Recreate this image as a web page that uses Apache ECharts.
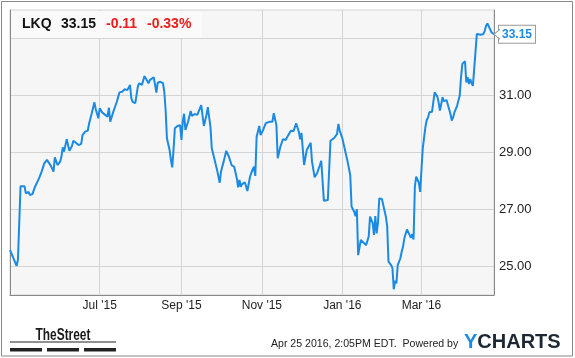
<!DOCTYPE html>
<html><head><meta charset="utf-8">
<script src="https://cdn.jsdelivr.net/npm/echarts@6/dist/echarts.min.js"></script>
<style>html,body{margin:0;padding:0;background:#fff;}#c{width:575px;height:358px;}</style>
</head><body><div id="c"></div>
<script>
const ticker = 'LKQ';
const lastPrice = '33.15';
const change = '-0.11';
const changePct = '-0.33%';
const stampText = 'Apr 25 2016, 2:05PM EDT.  Powered by';
const startDate = [2015, 3, 24];
const endDate = [2016, 3, 25];
const monthTicks = ['2015-07-01', '2015-09-01', '2015-11-01', '2016-01-01', '2016-03-01'];
const monthNames = {'01':'Jan','03':'Mar','07':'Jul','09':'Sep','11':'Nov'};
const yLabelValues = [25, 27, 29, 31];

const priceDates = [
'2015-04-24','2015-04-29','2015-04-30','2015-05-02','2015-05-05','2015-05-06','2015-05-08','2015-05-09','2015-05-11','2015-05-13',
'2015-05-14','2015-05-16','2015-05-18','2015-05-20','2015-05-22','2015-05-23','2015-05-25','2015-05-27','2015-05-28','2015-05-29',
'2015-05-30','2015-06-01','2015-06-02','2015-06-03','2015-06-04','2015-06-06','2015-06-07','2015-06-08','2015-06-10','2015-06-11',
'2015-06-13','2015-06-15','2015-06-17','2015-06-18','2015-06-20','2015-06-22','2015-06-23','2015-06-24','2015-06-25','2015-06-27',
'2015-06-28','2015-06-30','2015-07-01','2015-07-03','2015-07-04','2015-07-07','2015-07-08','2015-07-09','2015-07-11','2015-07-14',
'2015-07-16','2015-07-18','2015-07-20','2015-07-22','2015-07-23','2015-07-24','2015-07-25','2015-07-26','2015-07-28','2015-07-30',
'2015-07-31','2015-08-02','2015-08-03','2015-08-04','2015-08-05','2015-08-07','2015-08-08','2015-08-09','2015-08-11','2015-08-12',
'2015-08-13','2015-08-14','2015-08-16','2015-08-18','2015-08-19','2015-08-20','2015-08-21','2015-08-23','2015-08-24','2015-08-25',
'2015-08-26','2015-08-27','2015-08-29','2015-08-31','2015-09-01','2015-09-02','2015-09-03','2015-09-04','2015-09-06','2015-09-08',
'2015-09-09','2015-09-11','2015-09-13','2015-09-14','2015-09-16','2015-09-17','2015-09-18','2015-09-20','2015-09-21','2015-09-23',
'2015-09-24','2015-09-25','2015-09-28','2015-09-30','2015-10-01','2015-10-03','2015-10-05','2015-10-07','2015-10-08','2015-10-09',
'2015-10-11','2015-10-12','2015-10-13','2015-10-14','2015-10-15','2015-10-16','2015-10-17','2015-10-19','2015-10-20','2015-10-21',
'2015-10-23','2015-10-24','2015-10-26','2015-10-27','2015-10-28','2015-10-30','2015-10-31','2015-11-02','2015-11-04','2015-11-07',
'2015-11-09','2015-11-10','2015-11-12','2015-11-13','2015-11-15','2015-11-17','2015-11-19','2015-11-21','2015-11-23','2015-11-25',
'2015-11-27','2015-11-29','2015-11-30','2015-12-01','2015-12-03','2015-12-05','2015-12-06','2015-12-08','2015-12-09','2015-12-10',
'2015-12-11','2015-12-13','2015-12-15','2015-12-16','2015-12-18','2015-12-21','2015-12-22','2015-12-23','2015-12-26','2015-12-28',
'2015-12-29','2015-12-30','2016-01-01','2016-01-03','2016-01-05','2016-01-07','2016-01-08','2016-01-10','2016-01-11','2016-01-12',
'2016-01-13','2016-01-15','2016-01-16','2016-01-19','2016-01-21','2016-01-22','2016-01-24','2016-01-25','2016-01-26','2016-01-27',
'2016-01-28','2016-01-29','2016-01-31','2016-02-01','2016-02-03','2016-02-04','2016-02-05','2016-02-07','2016-02-08','2016-02-09',
'2016-02-10','2016-02-11','2016-02-12','2016-02-14','2016-02-15','2016-02-16','2016-02-17','2016-02-18','2016-02-19','2016-02-21',
'2016-02-22','2016-02-23','2016-02-24','2016-02-25','2016-02-26','2016-02-28','2016-02-29','2016-03-01','2016-03-02','2016-03-04',
'2016-03-05','2016-03-06','2016-03-07','2016-03-09','2016-03-10','2016-03-11','2016-03-13','2016-03-14','2016-03-15','2016-03-17',
'2016-03-18','2016-03-20','2016-03-21','2016-03-23','2016-03-24','2016-03-25','2016-03-26','2016-03-28','2016-03-30','2016-03-31',
'2016-04-01','2016-04-02','2016-04-03','2016-04-04','2016-04-05','2016-04-06','2016-04-07','2016-04-08','2016-04-09','2016-04-12',
'2016-04-13','2016-04-15','2016-04-17','2016-04-18','2016-04-19','2016-04-20','2016-04-22','2016-04-23','2016-04-24','2016-04-25'
];
const prices = [
25.58,25.02,25.23,27.82,27.82,27.57,27.62,27.51,27.54,27.80,
27.82,28.09,28.33,28.62,28.74,28.74,28.53,28.33,28.83,28.78,
28.56,28.68,28.85,29.18,29.03,29.47,29.26,29.06,29.23,29.41,
29.34,29.26,29.30,29.61,29.73,29.77,30.02,30.05,30.38,30.76,
30.52,30.20,30.55,30.40,30.36,30.26,30.57,30.08,30.38,30.78,
31.11,31.13,31.22,31.19,31.13,31.37,30.90,30.78,30.73,31.33,
31.43,31.37,31.43,31.68,31.72,31.43,31.54,31.57,31.64,31.37,
31.10,31.45,31.48,31.43,31.13,30.49,29.50,29.09,28.74,28.48,
29.09,29.85,29.93,29.96,29.44,30.08,30.36,29.79,30.08,30.46,
30.28,30.35,30.32,30.35,30.66,30.66,29.93,30.32,30.59,29.90,
29.15,29.11,28.39,27.94,28.33,28.68,29.06,28.85,28.85,28.56,
28.50,28.44,28.09,27.78,28.04,27.80,27.89,27.95,27.82,27.65,
28.15,28.29,28.50,28.18,29.55,29.93,29.61,29.80,30.03,30.08,
30.08,30.38,29.96,28.80,29.20,29.47,29.44,29.61,29.76,29.75,
30.02,29.73,29.46,29.69,28.56,29.09,29.11,29.34,28.68,28.64,
28.13,28.29,28.56,28.71,27.31,27.33,27.36,29.41,29.52,29.65,
30.00,29.77,29.50,29.09,28.68,28.20,27.10,26.92,26.76,27.01,
25.40,25.93,25.87,25.75,26.05,26.75,26.52,26.11,26.77,26.16,
26.52,27.39,27.37,27.33,26.75,26.42,25.17,25.05,24.94,24.20,
24.50,24.41,25.05,25.29,25.52,25.69,25.99,25.93,26.30,26.11,
26.01,26.14,25.95,27.80,28.15,27.94,27.62,28.40,29.15,29.90,
30.14,30.23,30.41,30.43,30.47,31.11,30.96,30.76,30.47,30.94,
30.80,30.84,30.82,30.35,30.12,30.23,30.41,30.64,30.99,31.64,
32.11,32.17,32.20,31.46,31.64,31.40,31.58,31.43,31.34,33.16,
33.10,33.13,33.16,33.27,33.45,33.53,33.33,33.22,33.18,33.15
];

// daily calendar categories
const days = [];
for (let t = Date.UTC(...startDate); t <= Date.UTC(...endDate); t += 86400000) {
  days.push(new Date(t).toISOString().slice(0, 10));
}
const priceMap = {};
priceDates.forEach((d, i) => { priceMap[d] = prices[i]; });
const seriesData = days.map(d => (d in priceMap ? priceMap[d] : null));

const FONT = '"Liberation Sans", Arial, Helvetica, sans-serif';
const isMonthTick = (i, v) => monthTicks.indexOf(v) >= 0;

const chart = echarts.init(document.getElementById('c'), null, {renderer: 'canvas'});
chart.setOption({
  animation: false,
  backgroundColor: '#ffffff',
  grid: {left: 10, right: 81, top: 10, bottom: 63, show: true, backgroundColor: '#f6f6f6', borderColor: '#d4d4d4', borderWidth: 1},
  xAxis: {
    type: 'category', data: days, boundaryGap: false,
    axisLine: {show: true, lineStyle: {color: '#888', width: 1}},
    axisTick: {show: false},
    axisLabel: {interval: isMonthTick, margin: 5, color: '#222', fontSize: 12, fontFamily: FONT,
      formatter: v => monthNames[v.slice(5, 7)] + " '" + v.slice(2, 4)},
    splitLine: {show: true, interval: isMonthTick, lineStyle: {color: '#d4d4d4', width: 1}}
  },
  yAxis: [{
    type: 'value', position: 'right', min: 24, max: 34, interval: 1,
    axisLine: {show: true, lineStyle: {color: '#888', width: 1}},
    axisTick: {show: false},
    axisLabel: {margin: 5, color: '#222', fontSize: 13, fontFamily: FONT,
      formatter: v => (yLabelValues.indexOf(v) >= 0 ? v.toFixed(2) : '')},
    splitLine: {show: true, lineStyle: {color: ['rgba(0,0,0,0)', '#d4d4d4'], width: 1}}
  }, {
    type: 'value', position: 'left', min: 24, max: 34, interval: 1,
    axisLine: {show: true, lineStyle: {color: '#888', width: 1}},
    axisTick: {show: false}, axisLabel: {show: false}, splitLine: {show: false}
  }],
  series: [{
    type: 'line', data: seriesData, connectNulls: true, showSymbol: false, symbol: 'none',
    lineStyle: {color: '#1a8ae2', width: 2},
    endLabel: {show: true, distance: 5, formatter: () => lastPrice, color: '#1a8ae2', fontWeight: 'bold',
      fontSize: 12, fontFamily: FONT, backgroundColor: '#fff', borderColor: '#999', borderWidth: 1, padding: [3, 3, 2, 3]},
    markPoint: {
      silent: true, symbol: 'path://M6,0L0,5L6,10', symbolSize: [6, 10], symbolKeepAspect: false, symbolOffset: [3, 0],
      itemStyle: {color: '#fff', borderColor: '#999', borderWidth: 1},
      label: {show: false},
      data: [{coord: [days[days.length - 1], prices[prices.length - 1]]}]
    }
  }],
  graphic: [
    {type: 'rect', z: 100, shape: {x: 1.5, y: 1.5, width: 571, height: 354.5}, style: {fill: 'none', stroke: '#888', lineWidth: 1}},
    {type: 'rect', z: 100, shape: {x: 11, y: 11, width: 191, height: 27}, style: {fill: '#fafafa'}},
    {type: 'text', z: 101, x: 22, y: 24, style: {text: ticker, font: 'bold 14px ' + FONT, fill: '#111', verticalAlign: 'middle'}},
    {type: 'text', z: 101, x: 61, y: 24, style: {text: lastPrice, font: 'bold 14px ' + FONT, fill: '#111', verticalAlign: 'middle'}},
    {type: 'text', z: 101, x: 106, y: 24, style: {text: change, font: 'bold 14px ' + FONT, fill: '#ee1c1c', verticalAlign: 'middle'}},
    {type: 'text', z: 101, x: 147, y: 24, style: {text: changePct, font: 'bold 14px ' + FONT, fill: '#ee1c1c', verticalAlign: 'middle'}},
    {type: 'text', z: 101, x: 63, y: 335.5, scaleX: 0.7, style: {text: 'TheStreet', font: 'bold 17px ' + FONT, fill: '#1a1a1a', align: 'center', verticalAlign: 'middle'}},
    {type: 'line', z: 101, shape: {x1: 10, y1: 342, x2: 116, y2: 342}, style: {stroke: '#222', lineWidth: 1.2}},
    {type: 'rect', z: 101, shape: {x: 10, y: 348, width: 32, height: 3.5}, style: {fill: '#222'}},
    {type: 'rect', z: 101, shape: {x: 47, y: 348, width: 32, height: 3.5}, style: {fill: '#222'}},
    {type: 'rect', z: 101, shape: {x: 84, y: 348, width: 32, height: 3.5}, style: {fill: '#222'}},
    {type: 'text', z: 101, x: 271, y: 344, scaleX: 0.96, style: {text: stampText, font: '11px ' + FONT, fill: '#222', verticalAlign: 'middle'}},
    {type: 'text', z: 101, x: 464, y: 342, style: {text: '{y|Y}{c|CHARTS}', verticalAlign: 'middle',
      rich: {y: {fill: '#1a8ae2', font: 'bold 20px ' + FONT}, c: {fill: '#1d2735', font: 'bold 20px ' + FONT}}}}
  ]
});
</script>
</body></html>
